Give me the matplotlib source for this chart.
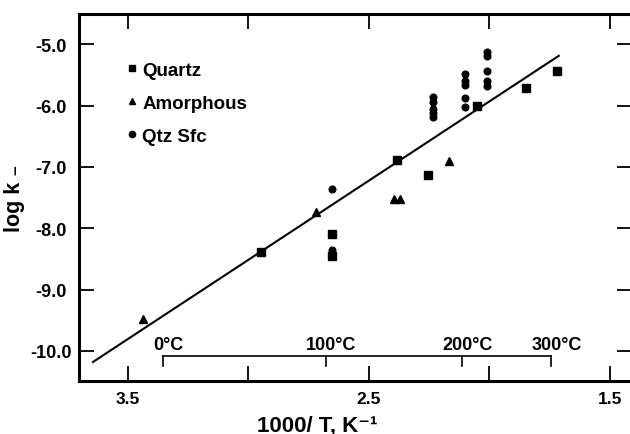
import matplotlib
matplotlib.use("Agg")
import matplotlib.pyplot as plt
from matplotlib.lines import Line2D

plt.rcParams['font.family'] = ['Liberation Sans', 'DejaVu Sans']
plt.rcParams['font.weight'] = 'bold'

# ---- data ----
quartz_x = [2.949, 2.651, 2.651, 2.385, 2.254, 2.051, 1.849, 1.721]
quartz_y = [-8.39, -8.10, -8.45, -6.88, -7.14, -6.00, -5.72, -5.43]

amorph_x = [3.436, 2.721, 2.397, 2.371, 2.168]
amorph_y = [-9.48, -7.73, -7.53, -7.53, -6.91]

sfc_x = [2.651, 2.651,
         2.233, 2.233, 2.233, 2.233, 2.233,
         2.102, 2.102, 2.102, 2.102, 2.102,
         2.009, 2.009, 2.009, 2.009, 2.009]
sfc_y = [-7.36, -8.36,
         -5.86, -5.94, -6.06, -6.12, -6.18,
         -5.49, -5.60, -5.67, -5.87, -6.02,
         -5.12, -5.20, -5.43, -5.60, -5.68]

fit_x = [3.645, 1.712]
fit_y = [-10.18, -5.19]

x_ticks = [3.5, 3.0, 2.5, 2.0, 1.5]
x_ticklabels = ['3.5', '', '2.5', '', '1.5']
y_ticks = [-5.0, -6.0, -7.0, -8.0, -9.0, -10.0]
y_ticklabels = ['-5.0', '-6.0', '-7.0', '-8.0', '-9.0', '-10.0']

temp_tick_x = [3.355, 2.680, 2.113, 1.745]
temp_labels = ['0°C', '100°C', '200°C', '300°C']
temp_line_y = -10.08
temp_tick_bottom = -10.24

# ---- figure ----
fig = plt.figure(figsize=(6.3, 4.35), dpi=100)
ax = fig.add_axes([79/630, 1 - 382/435, (632 - 79)/630, (382 - 14.5)/435])
ax.set_xlim(3.703, 1.408)
ax.set_ylim(-10.49, -4.50)

ax.plot(fit_x, fit_y, color='black', lw=1.5, zorder=2)
ax.plot(quartz_x, quartz_y, ls='none', marker='s', ms=5.5, color='black', zorder=3)
ax.plot(amorph_x, amorph_y, ls='none', marker='^', ms=5.5, color='black', zorder=3)
ax.plot(sfc_x, sfc_y, ls='none', marker='o', ms=4.8, color='black', zorder=3)

# temperature scale bracket
ax.plot([temp_tick_x[0], temp_tick_x[-1]], [temp_line_y, temp_line_y], color='black', lw=1.2)
for tx, tl in zip(temp_tick_x, temp_labels):
    ax.plot([tx, tx], [temp_line_y, temp_tick_bottom], color='black', lw=1.2)
    ax.annotate(tl, (tx, temp_line_y), xytext=(4, 2), textcoords='offset points',
                ha='center', va='bottom', fontsize=13, fontweight='bold')

for s in ax.spines.values():
    s.set_linewidth(2.2)

ax.set_xticks(x_ticks)
ax.set_xticklabels(x_ticklabels)
ax.set_yticks(y_ticks)
ax.set_yticklabels(y_ticklabels)
ax.tick_params(axis='both', which='major', direction='in', length=11, width=1.3,
               top=True, right=True)
ax.tick_params(axis='x', labelsize=12.5, pad=7)
ax.tick_params(axis='y', labelsize=13, pad=20)
for lab in ax.get_xticklabels():
    lab.set_fontweight('bold')
for lab in ax.get_yticklabels():
    lab.set_fontweight('bold')
    lab.set_horizontalalignment('center')

ax.set_ylabel('log k ₋', fontsize=15.5, fontweight='bold')
ax.yaxis.set_label_coords((25 - 79)/553, 0.5)
ax.set_xlabel('1000/ T, K⁻¹', fontsize=16, fontweight='bold')
ax.xaxis.set_label_coords((317 - 79)/553, -0.09)

handles = [
    Line2D([], [], ls='none', marker='s', ms=5, color='black'),
    Line2D([], [], ls='none', marker='^', ms=5, color='black'),
    Line2D([], [], ls='none', marker='o', ms=4.5, color='black'),
]
leg = ax.legend(handles, ['Quartz', 'Amorphous', 'Qtz Sfc'], loc='upper left',
                bbox_to_anchor=(0.07, 0.895), frameon=False, handlelength=0.5,
                handletextpad=0.3, labelspacing=0.85, borderpad=0,
                prop={'size': 13.5, 'weight': 'bold'})

fig.savefig('out.png', dpi=100)
